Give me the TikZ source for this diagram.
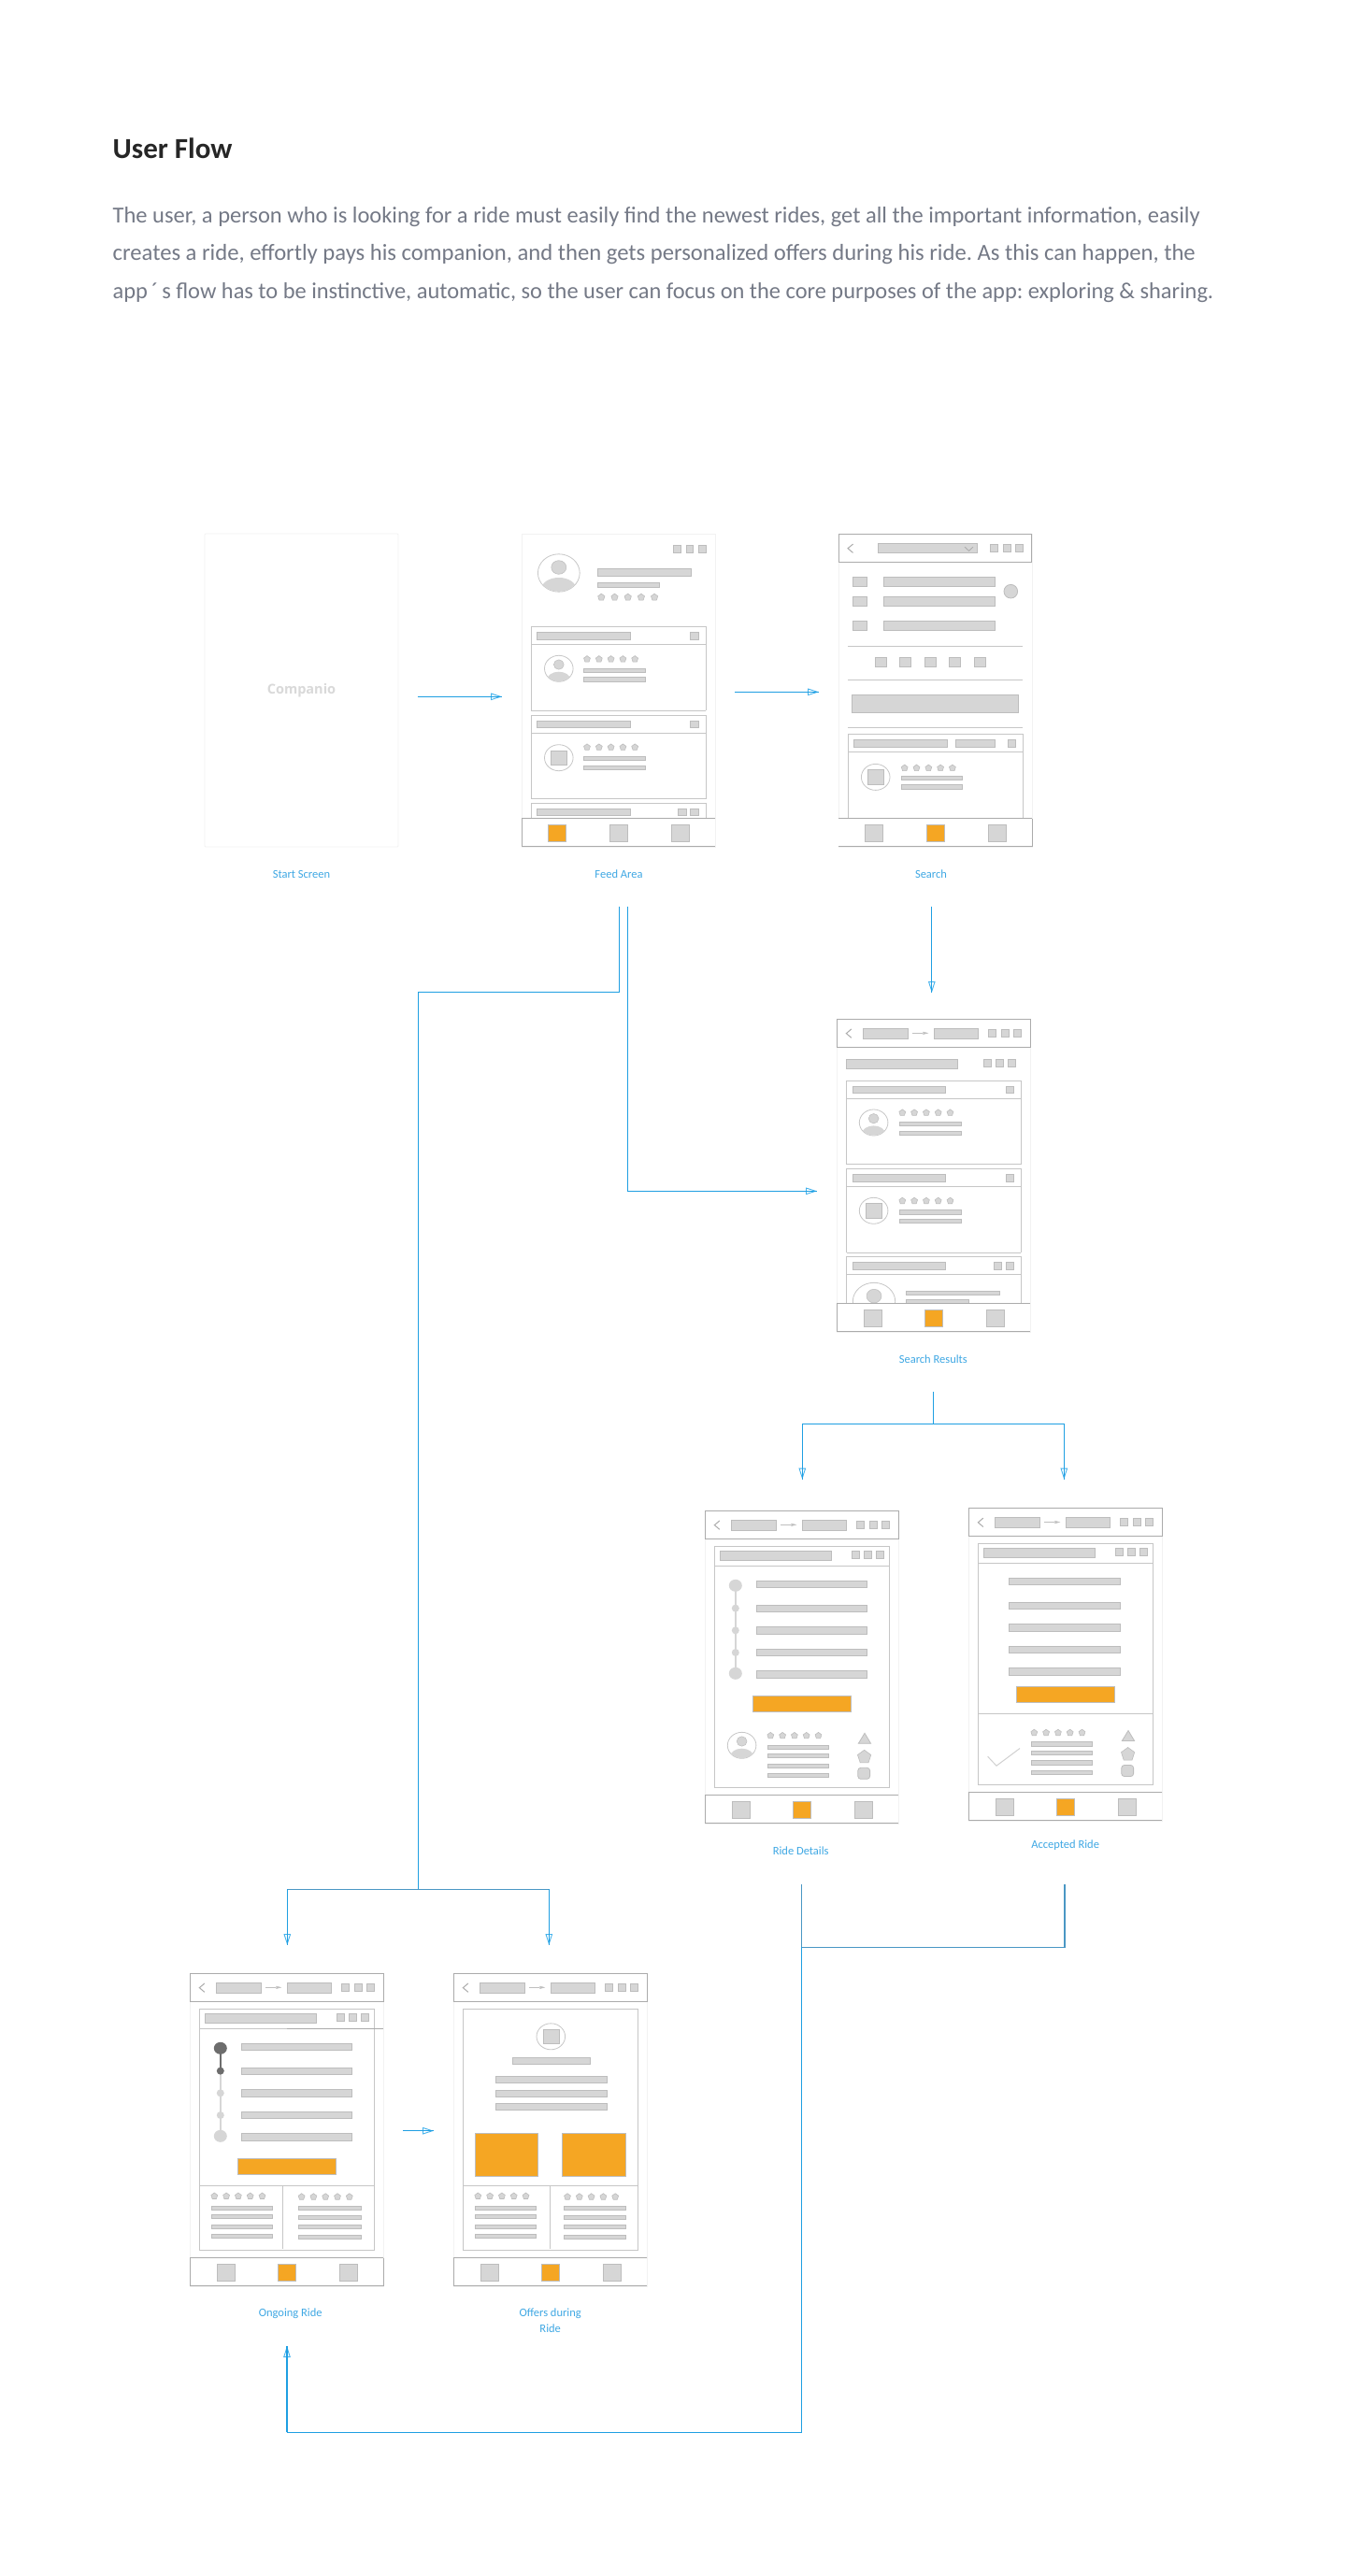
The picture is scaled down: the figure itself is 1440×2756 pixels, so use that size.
\documentclass[tikz,border=0pt]{standalone}
\usepackage{fontspec}
\usetikzlibrary{arrows.meta}
\setmainfont{Carlito}
\newfontfamily\opensans{Open Sans}
\definecolor{wfill}{HTML}{D6D6D6}
\definecolor{wline}{HTML}{BDBDBD}
\definecolor{cardline}{HTML}{C6C6C6}
\definecolor{headline}{HTML}{ABABAB}
\definecolor{orng}{HTML}{F5A623}
\definecolor{flowblue}{HTML}{1F9FE2}
\definecolor{flowsteel}{HTML}{4A97C4}
\definecolor{tipblue}{HTML}{45B2EC}
\definecolor{labelblue}{HTML}{3FA8E4}
\definecolor{bodygray}{HTML}{747986}
\definecolor{darkdot}{HTML}{6D6D6D}
\tikzset{
  x=1pt,y=-1pt,
  wf/.style={fill=wfill,draw=wline,line width=.8pt},
  orangebox/.style={fill=orng,draw=wline,line width=.6pt},
  cardframe/.style={draw=cardline,line width=.9pt},
  headframe/.style={draw=headline,line width=1pt},
  screenbox/.style={draw=black!5,line width=.8pt,fill=white,minimum width=207pt,minimum height=335pt,inner sep=0pt},
  flow/.style={draw=flowblue,line width=1.3pt},
  flowdim/.style={draw=flowsteel,line width=1.2pt},
  flowhead/.style={draw=tipblue,line width=.9pt,-{Triangle[open,length=12pt,width=7.5pt]}},
  caption/.style={text=labelblue,font=\fontsize{12.5}{14}\selectfont,inner sep=0pt},
  bodyline/.style={text=bodygray,anchor=base west,inner sep=0pt},
}
\newcommand\wb[4]{\filldraw[wf] (#1,#2) rectangle (#3,#4);}
\newcommand\ob[4]{\filldraw[orangebox] (#1,#2) rectangle (#3,#4);}
\newcommand\pent[3]{\filldraw[fill=wfill,draw=wline,line width=.6pt]
  ({#1},{#2-#3}) -- ({#1+.951*#3},{#2-.309*#3}) -- ({#1+.588*#3},{#2+.809*#3}) --
  ({#1-.588*#3},{#2+.809*#3}) -- ({#1-.951*#3},{#2-.309*#3}) -- cycle;}
% five small pentagons: first x, y
\newcommand\stars[2]{\foreach \k in {0,...,4}{\pent{#1+12.8*\k}{#2}{3.6}}}
\newcommand\avatarface[2]{\filldraw[fill=white,draw=black!22,line width=.8pt] (#1,#2) ellipse [x radius=15.3,y radius=14];}
\newcommand\avatarperson[2]{\avatarface{#1}{#2}
  \begin{scope}\clip (#1,#2) ellipse [x radius=15,y radius=13.7];
    \fill[wfill] ({#1},{#2+12}) ellipse [x radius=12.5,y radius=8.6];
  \end{scope}
  \filldraw[wf,line width=.5pt] ({#1},{#2-4.3}) ellipse [x radius=5.4,y radius=5.2];}
\newcommand\avatarsquare[2]{\avatarface{#1}{#2}\wb{#1-8.3}{#2-7.6}{#1+8.7}{#2+7.7}}
\newcommand\threeicons[1]{\wb{157}{#1}{165}{#1+8}\wb{170}{#1}{178}{#1+8}\wb{183.3}{#1}{191.3}{#1+8}}
\newcommand\chev{\draw[draw=headline,line width=1pt] (15.5,10.7) -- (10,15.3) -- (15.5,20);}
\newcommand\topicons{\wb{162.5}{11.3}{170.5}{19.3}\wb{176}{11.3}{184}{19.3}\wb{189.3}{11.3}{197.3}{19.3}}
\newcommand\routebar{%
  \filldraw[fill=white,headframe] (0,0) rectangle (206.7,29.7);
  \chev
  \wb{28}{10.3}{75.7}{20.7}\wb{103.7}{10.3}{151.3}{20.7}
  \draw[draw=black!25,line width=.4pt,-{Triangle[length=6pt,width=3pt]}] (80.7,15) -- (98,15);
  \topicons}
% tab bar: #1 orange index, #2 extra closing side (0 left only, 1 right only, 2 both)
\newcommand\tabbar[2]{%
  \fill[white] (0,304.3) rectangle (207,334.3);
  \draw[headframe] (207,304.3) -- (0,304.3);
  \draw[headframe] (0,334.3) -- (207,334.3);
  \ifnum#2=1\else\draw[headframe] (0,304.3) -- (0,334.3);\fi
  \ifnum#2=0\else\draw[headframe] (207,304.3) -- (207,334.3);\fi
  \foreach \i/\a/\b in {1/28.7/47.7,2/94/113,3/160/179}{
    \ifnum\i=#1\relax\ob{\a}{311}{\b}{329}\else\wb{\a}{311}{\b}{329}\fi}}
\newcommand\ridecard[3]{% top y, bottom y, icon count
  \draw[cardframe] (10.3,#2) -- (10.3,#1) -- (197,#1) -- (197,#2);
  \draw[cardframe] (10.3,#1+19) -- (197,#1+19);
  \wb{16.7}{#1+6}{116.5}{#1+13.6}
  \wb{180.7}{#1+6}{189.3}{#1+13.6}
  \ifnum#3=2\wb{167.8}{#1+6}{176.2}{#1+13.6}\fi}
\newcommand\cardtext[1]{\stars{70}{#1+34.5}\wb{66.7}{#1+44.3}{132.7}{#1+48.6}\wb{66.7}{#1+54}{132.7}{#1+58.3}}
\newcommand\fivebars[2]{% x1 x2
  \wb{#1}{75}{#2}{82.3}\wb{#1}{101}{#2}{108.3}\wb{#1}{124.3}{#2}{131.7}\wb{#1}{148}{#2}{155.3}\wb{#1}{171.3}{#2}{178.7}}
\newcommand\panelbox[2]{% bottom divider y handled elsewhere
  \draw[cardframe] (10,38) rectangle (197,296);
  \draw[cardframe] (10,59) -- (197,59);
  \wb{16.5}{43}{135.3}{53.3}\threeicons{43}}
\newcommand\fourlines[6]{% x1 x2 y1..y4
  \wb{#1}{#3}{#2}{#3+4.4}\wb{#1}{#4}{#2}{#4+4.4}\wb{#1}{#5}{#2}{#5+4.4}\wb{#1}{#6}{#2}{#6+4.4}}
\newcommand\shapecolumn{%
  \filldraw[wf] (170.7,238) -- (177.3,249) -- (164,249) -- cycle;
  \pent{170.3}{263.5}{7.5}
  \filldraw[wf,rounded corners=3pt] (163.5,275) rectangle (176.3,287);}
\newcommand\timeline[1]{% colour of first stretch
  \draw[draw=wfill,line width=2pt] (32.5,80) -- (32.5,174);
  \draw[draw=#1,line width=2pt] (32.5,80) -- (32.5,104.3);
  \fill[#1] (32.5,80) ellipse [x radius=7,y radius=6.5];
  \fill[#1] (32.5,104.3) circle (4);
  \fill[wfill] (32.5,128) circle (4);
  \fill[wfill] (32.5,151.7) circle (4);
  \fill[wfill] (32.5,174) ellipse [x radius=7,y radius=6.5];}
\newcommand\tippedarrow[2]{\draw[flowhead] (#1) -- (#2);\draw[flow] (#1) -- (#2);}
\begin{document}
\begin{tikzpicture}
\useasboundingbox (0,0) rectangle (1440,2756);
\fill[white] (0,0) rectangle (1440,2756);

% ---------- text ----------
\node[anchor=base west,inner sep=0pt,text=black!85,font=\fontsize{31}{34}\selectfont\bfseries] (title) at (120.5,170) {User Flow};
\node[bodyline,font=\frenchspacing\fontsize{24.5}{28}\selectfont] (introa) at (120.5,239) {The user, a person who is looking for a ride must easily find the newest rides, get all the important information, easily};
\node[bodyline,font=\frenchspacing\fontsize{24.65}{28}\selectfont] (introb) at (120.5,279) {creates a ride, effortly pays his companion, and then gets personalized offers during his ride. As this can happen, the};
\node[bodyline,font=\frenchspacing\fontsize{24.4}{28}\selectfont] (introc) at (120.5,319) {app\,´\,s flow has to be instinctive, automatic, so the user can focus on the core purposes of the app: exploring \& sharing.};

% ---------- screen frames ----------
\node[screenbox,rounded corners=1pt] (start) at (322.5,738.5) {};
\node[screenbox] (feed) at (661.5,738.5) {};
\node[screenbox] (search) at (1000.5,738.5) {};
\node[screenbox] (results) at (999,1257.5) {};
\node[screenbox] (details) at (857.8,1783.5) {};
\node[screenbox] (accepted) at (1139.8,1780.8) {};
\node[screenbox] (ongoing) at (306.8,2278.5) {};
\node[screenbox] (offers) at (588.8,2278.5) {};

\node[text=black!15,font=\opensans\bfseries\fontsize{14.5}{16}\selectfont,inner sep=0pt] (brand) at (322.5,738.5) {Companio};

% ---------- feed ----------
\begin{scope}[shift={(558,571)}]
  \wb{162.6}{12}{170.7}{20}\wb{176}{12}{183.7}{20}\wb{189}{12}{197}{20}
  \filldraw[fill=white,draw=black!22,line width=.8pt] (39.8,42) ellipse [x radius=22.4,y radius=20.2];
  \begin{scope}\clip (39.8,42) ellipse [x radius=22,y radius=19.9];
    \fill[wfill] (39.8,59) ellipse [x radius=18.5,y radius=12];
  \end{scope}
  \filldraw[wf,line width=.5pt] (39.8,36) ellipse [x radius=8,y radius=7.3];
  \wb{81}{37.3}{181}{45}\wb{81}{52.3}{147}{57}
  \foreach \k in {0,...,4}{\pent{85.3+14.2*\k}{68}{3.8}}
  \ridecard{99.7}{189.3}{1}\avatarperson{39.8}{144.3}\cardtext{99.7}
  \ridecard{194}{283.7}{1}\avatarsquare{39.8}{239.7}\cardtext{194}
  \draw[cardframe] (10.3,189.3) -- (197,189.3);
  \draw[cardframe] (10.3,283.7) -- (197,283.7);
  \ridecard{288}{305}{2}
  \tabbar{1}{0}
\end{scope}

% ---------- search ----------
\begin{scope}[shift={(897,571.4)}]
  \filldraw[fill=white,headframe] (0,0) rectangle (206.7,29.7);
  \chev
  \wb{42.3}{10}{148.7}{20.3}
  \draw[draw=headline,line width=.8pt] (135,13.7) -- (139.5,18) -- (144,13.7);
  \topicons
  \wb{15.3}{46}{30.7}{56.3}\wb{15.3}{67}{30.7}{77.3}\wb{15.3}{93}{30.7}{103.3}
  \wb{48.7}{46}{167.7}{56.3}\wb{48.7}{67}{167.7}{77.3}\wb{48.7}{93}{167.7}{103.3}
  \filldraw[wf] (184.3,61.3) circle (7.3);
  \draw[cardframe] (10,120) -- (196.7,120);
  \foreach \a in {39.3,65.7,92.3,118.7,145.7}{\wb{\a}{132}{\a+12}{142.3}}
  \draw[cardframe] (10,156) -- (196.7,156);
  \wb{14.3}{172.3}{192.7}{190.7}
  \draw[cardframe] (10,207) -- (196.7,207);
  \draw[cardframe] (10.3,304) -- (10.3,214.3) -- (197,214.3) -- (197,304);
  \draw[cardframe] (10.3,233) -- (197,233);
  \wb{16.7}{220}{116.7}{228}\wb{125.3}{220}{167}{228}\wb{181.3}{220}{189.7}{228}
  \avatarsquare{39.7}{260}
  \stars{70.7}{250.3}
  \wb{67}{259}{132.7}{263.3}\wb{67}{268.3}{132.7}{272.7}
  \tabbar{2}{1}
\end{scope}

% ---------- search results ----------
\begin{scope}[shift={(895.3,1090.3)}]
  \routebar
  \wb{10}{43}{128.7}{53.3}
  \wb{157}{43}{165}{51}\wb{170}{43}{178}{51}\wb{183.3}{43}{191.3}{51}
  \ridecard{65.7}{155.3}{1}\avatarperson{39.3}{110.7}\cardtext{65.7}
  \ridecard{160}{250}{1}\avatarsquare{39.3}{205}\cardtext{160}
  \draw[cardframe] (10.3,155.3) -- (197,155.3);
  \draw[cardframe] (10.3,250) -- (197,250);
  \ridecard{254.3}{304}{2}
  \begin{scope}\clip (0,240) rectangle (207,304);
    \filldraw[fill=white,draw=black!22,line width=.8pt] (39.7,302) ellipse [x radius=22.7,y radius=20];
    \filldraw[wf,line width=.5pt] (39.7,296.3) ellipse [x radius=8,y radius=7.3];
    \wb{74}{291}{174.3}{295.3}\wb{74}{300}{140.7}{304.5}
  \end{scope}
  \tabbar{2}{0}
\end{scope}

% ---------- ride details ----------
\begin{scope}[shift={(754.3,1616.3)}]
  \routebar
  \panelbox{}{}
  \timeline{wfill}
  \fivebars{54.7}{173.3}
  \ob{50.7}{197.7}{156}{215.3}
  \avatarperson{39.3}{251}
  \stars{70}{240.7}
  \fourlines{66.7}{132.3}{251}{260}{270.7}{281}
  \shapecolumn
  \tabbar{2}{0}
\end{scope}

% ---------- accepted ride ----------
\begin{scope}[shift={(1036.3,1613.5)}]
  \routebar
  \panelbox{}{}
  \fivebars{43.3}{162.3}
  \ob{50.7}{190.3}{156.3}{208}
  \draw[cardframe] (10,219.7) -- (197,219.7);
  \draw[draw=black!18,line width=1pt] (20.3,265.7) -- (29.7,275.7) -- (54.7,257);
  \stars{70}{240.3}
  \fourlines{66.7}{132.3}{250.3}{259.7}{270.3}{280.7}
  \shapecolumn
  \tabbar{2}{0}
\end{scope}

% ---------- ongoing ride ----------
\begin{scope}[shift={(203.3,2111.3)}]
  \routebar
  \panelbox{}{}
  \draw[draw=headline,line width=.9pt] (104,59) -- (206.7,59);
  \timeline{darkdot}
  \fivebars{54.7}{173.3}
  \ob{50.7}{197.7}{156.3}{215.3}
  \draw[cardframe] (10,227) -- (197,227);
  \draw[cardframe] (99.3,227) -- (99.3,294.7);
  \stars{26}{238.3}
  \fourlines{22.7}{88.3}{248.7}{258}{268.7}{279}
  \stars{119.3}{239}
  \fourlines{116}{182.7}{249}{258.7}{269}{279.7}
  \tabbar{2}{2}
\end{scope}

% ---------- offers ----------
\begin{scope}[shift={(485.3,2111.3)}]
  \routebar
  \draw[cardframe] (10,38) rectangle (197,296);
  \avatarsquare{104}{67.5}
  \wb{63.3}{90.3}{146.3}{97.3}
  \wb{45}{110.3}{164}{117.3}\wb{45}{125}{164}{132.3}\wb{45}{139}{164}{146.3}
  \ob{23}{171}{90.3}{216.7}\ob{116.3}{171}{183.7}{216.7}
  \draw[cardframe] (10,227) -- (197,227);
  \draw[cardframe] (103,227) -- (103,294.7);
  \stars{26}{238.3}
  \fourlines{22.7}{88.3}{248.7}{258}{268.7}{279}
  \stars{121.7}{239}
  \fourlines{118.3}{184.3}{249}{258.7}{269}{279.7}
  \tabbar{2}{0}
\end{scope}

% ---------- captions ----------
\node[caption] (capstart) at (322.5,935) {Start Screen};
\node[caption] (capfeed) at (662,935) {Feed Area};
\node[caption] (capsearch) at (996,935) {Search};
\node[caption] (capresults) at (998.3,1454) {Search Results};
\node[caption] (capdetails) at (856.7,1980) {Ride Details};
\node[caption] (capaccepted) at (1139.7,1974) {Accepted Ride};
\node[caption] (capongoing) at (310.7,2475) {Ongoing Ride};
\node[caption] (capoffers) at (588.7,2475) {Offers during};
\node[caption] (capride) at (588.7,2491) {Ride};

% ---------- connector ends ----------
\coordinate (a1) at (446.8,745.3);   \coordinate (a2) at (537,745.3);
\coordinate (b1) at (786,740.3);     \coordinate (b2) at (876,740.3);
\coordinate (c1) at (996.8,970);     \coordinate (c2) at (996.8,1062);
\coordinate (d0) at (671.3,970);     \coordinate (d1) at (671.3,1274.3); \coordinate (d2) at (874,1274.3);
\coordinate (e0) at (662.3,970);     \coordinate (e1) at (662.3,1061.3); \coordinate (e2) at (447.3,1061.3);
\coordinate (e3) at (447.3,2021.3);  \coordinate (e4) at (307.3,2021.3); \coordinate (e5) at (587.3,2021.3);
\coordinate (e6) at (307.3,2081);    \coordinate (e7) at (587.3,2081);
\coordinate (f0) at (998.3,1489);    \coordinate (f1) at (998.3,1523.3);
\coordinate (f2) at (858.3,1523.3);  \coordinate (f3) at (1138.3,1523.3);
\coordinate (f4) at (858.3,1582.7);  \coordinate (f5) at (1138.3,1582.7);
\coordinate (g0) at (857.5,2016);    \coordinate (g1) at (857.5,2083.3); \coordinate (g2) at (857.5,2602.3);
\coordinate (g3) at (307,2602.3);    \coordinate (g4) at (307,2510);
\coordinate (h0) at (1139,2016);     \coordinate (h1) at (1139,2083.3);
\coordinate (i1) at (431,2279.7);    \coordinate (i2) at (464,2279.7);

% ---------- connectors ----------
\tippedarrow{a1}{a2}
\tippedarrow{b1}{b2}
\tippedarrow{c1}{c2}
\draw[flow] (d0) -- (d1) -- (d2);
\tippedarrow{d1}{d2}
\draw[flow] (e0) -- (e1) -- (e2) -- (e3);
\draw[flowdim] (e4) -- (e5);
\tippedarrow{e4}{e6}
\tippedarrow{e5}{e7}
\draw[flow] (f0) -- (f1);
\draw[flow] (f2) -- (f3);
\tippedarrow{f2}{f4}
\tippedarrow{f3}{f5}
\draw[flowdim] (g0) -- (g1);
\draw[flow] (g1) -- (g2) -- (g3);
\tippedarrow{g3}{g4}
\draw[flowdim] (g1) -- (h1) -- (h0);
\tippedarrow{i1}{i2}
\end{tikzpicture}
\end{document}
